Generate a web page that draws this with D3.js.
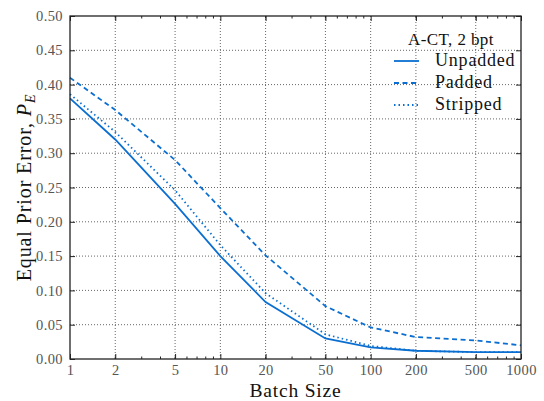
<!DOCTYPE html>
<html><head><meta charset="utf-8">
<script src="https://cdn.jsdelivr.net/npm/d3@7"></script>
<style>body{margin:0;background:#fff}svg{display:block}</style>
</head><body>
<script>
const batchSizes = [1, 2, 5, 10, 20, 50, 100, 200, 500, 1000];
const unpadded = [0.380, 0.320, 0.226, 0.150, 0.083, 0.030, 0.017, 0.012, 0.010, 0.010];
const padded   = [0.410, 0.363, 0.290, 0.220, 0.151, 0.077, 0.046, 0.032, 0.027, 0.020];
const stripped = [0.386, 0.331, 0.246, 0.166, 0.096, 0.036, 0.019, 0.012, 0.010, 0.010];
const xTicks = [1, 2, 5, 10, 20, 50, 100, 200, 500, 1000];
const yTicks = [0, 0.05, 0.10, 0.15, 0.20, 0.25, 0.30, 0.35, 0.40, 0.45, 0.50];
const seriesNames = ["Unpadded", "Padded", "Stripped"];
const legendTitle = "A-CT, 2 bpt";

const W = 544, H = 401;
const m = {l: 70, r: 23, t: 16, b: 42};
const color = "#0b6fd1";
const serif = "'Liberation Serif', 'Times New Roman', serif";

const svg = d3.select("body").append("svg").attr("width", W).attr("height", H);
const x = d3.scaleLog().domain([1, 1000]).range([m.l, W - m.r]);
const y = d3.scaleLinear().domain([0, 0.5]).range([H - m.b, m.t]);

// grid
const g = svg.append("g");
g.selectAll(".vg").data(xTicks.slice(1, -1)).join("line")
  .attr("x1", d => x(d)).attr("x2", d => x(d)).attr("y1", y(0)).attr("y2", y(0.5))
  .attr("stroke", "#555").attr("stroke-width", 0.9).attr("stroke-dasharray", "1,2");
g.selectAll(".hg").data(yTicks.slice(1, -1)).join("line")
  .attr("x1", x(1)).attr("x2", x(1000)).attr("y1", d => y(d)).attr("y2", d => y(d))
  .attr("stroke", "#555").attr("stroke-width", 0.9).attr("stroke-dasharray", "1,2");

// minor ticks
const minor = [];
[1, 10, 100].forEach(dec => { for (let k = 2; k <= 9; k++) minor.push(dec * k); });
const fmt = d => d3.format(".2f")(d);

// axes
const xAxisB = d3.axisBottom(x).tickValues(xTicks).tickFormat(d3.format("d")).tickSize(-5).tickPadding(6);
const xAxisT = d3.axisTop(x).tickValues(xTicks).tickFormat("").tickSize(-5);
const yAxisL = d3.axisLeft(y).tickValues(yTicks).tickFormat(fmt).tickSize(-5).tickPadding(7);
const yAxisR = d3.axisRight(y).tickValues(yTicks).tickFormat("").tickSize(-5);

function style(sel) {
  sel.select(".domain").remove();
  sel.selectAll(".tick line").attr("stroke", "#222").attr("stroke-width", 1);
  sel.selectAll("text").attr("font-family", serif).attr("font-size", 14.5).attr("fill", "#555")
    .attr("letter-spacing", 0.4);
}
svg.append("g").attr("transform", `translate(0,${y(0)})`).call(xAxisB).call(style);
svg.append("g").attr("transform", `translate(0,${y(0.5)})`).call(xAxisT).call(style);
svg.append("g").attr("transform", `translate(${x(1)},0)`).call(yAxisL).call(style);
svg.append("g").attr("transform", `translate(${x(1000)},0)`).call(yAxisR).call(style);
svg.append("g").selectAll("line").data(minor).join("line")
  .attr("x1", d => x(d)).attr("x2", d => x(d)).attr("y1", y(0)).attr("y2", y(0) - 2.5)
  .attr("stroke", "#222");
svg.append("g").selectAll("line").data(minor).join("line")
  .attr("x1", d => x(d)).attr("x2", d => x(d)).attr("y1", y(0.5)).attr("y2", y(0.5) + 2.5)
  .attr("stroke", "#222");

// lines
const dashes = [null, "5,3.5", "1.5,3"];
const series = [unpadded, padded, stripped];
const line = d3.line().x((d, i) => x(batchSizes[i])).y(d => y(d));
series.forEach((s, k) => {
  svg.append("path").datum(s).attr("d", line).attr("fill", "none")
    .attr("stroke", color).attr("stroke-width", 1.8)
    .attr("stroke-dasharray", dashes[k]);
});

// frame
svg.append("rect").attr("x", x(1)).attr("y", y(0.5)).attr("width", x(1000) - x(1)).attr("height", y(0) - y(0.5))
  .attr("fill", "none").attr("stroke", "#222").attr("stroke-width", 1.3);

// legend
const lg = svg.append("g");
lg.append("text").attr("x", 451).attr("y", 45).attr("text-anchor", "middle")
  .attr("font-family", serif).attr("font-size", 17).attr("letter-spacing", 0.4)
  .attr("fill", "#111").text(legendTitle);
seriesNames.forEach((n, k) => {
  const yy = 61 + k * 22;
  lg.append("line").attr("x1", 394).attr("x2", 419).attr("y1", yy).attr("y2", yy)
    .attr("stroke", color).attr("stroke-width", 1.8).attr("stroke-dasharray", dashes[k]);
  lg.append("text").attr("x", 435).attr("y", yy + 5).attr("font-family", serif)
    .attr("font-size", 18).attr("letter-spacing", 0.8).attr("fill", "#111").text(n);
});

// axis labels
svg.append("text").attr("x", (x(1) + x(1000)) / 2).attr("y", 397).attr("text-anchor", "middle")
  .attr("font-family", serif).attr("font-size", 19.5).attr("letter-spacing", 0.8)
  .attr("fill", "#111").text("Batch Size");
const yl = svg.append("text").attr("transform", `translate(31,${(y(0) + y(0.5)) / 2}) rotate(-90)`)
  .attr("text-anchor", "middle").attr("font-family", serif).attr("font-size", 20)
  .attr("letter-spacing", 0.9).attr("fill", "#111");
yl.append("tspan").text("Equal Prior Error, ");
yl.append("tspan").attr("font-style", "italic").text("P");
yl.append("tspan").attr("font-style", "italic").attr("font-size", 14).attr("dy", 4).text("E");
</script>
</body></html>
